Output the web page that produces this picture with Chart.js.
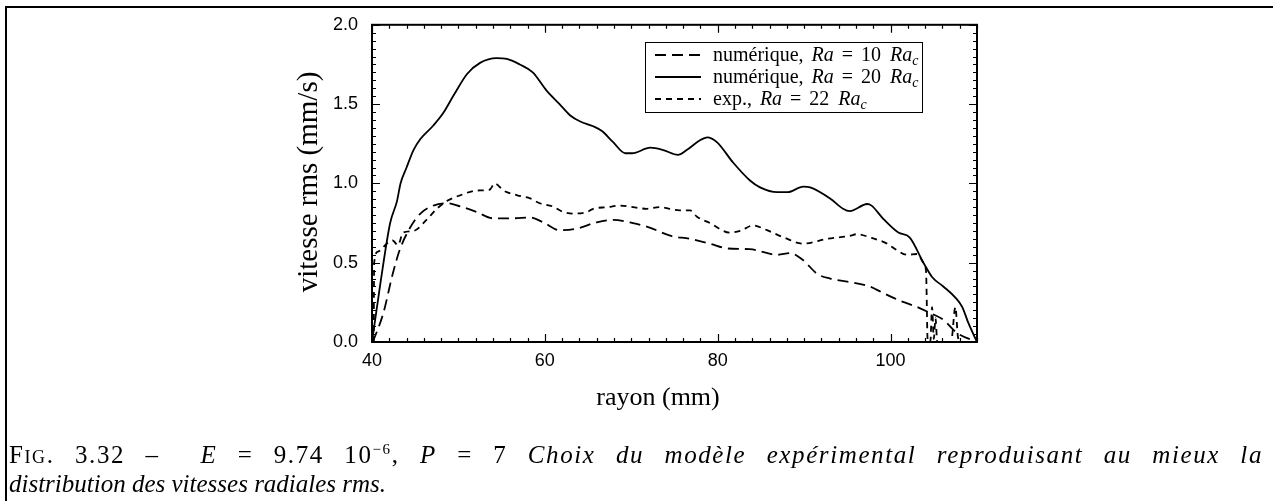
<!DOCTYPE html>
<html>
<head>
<meta charset="utf-8">
<script src="https://cdn.jsdelivr.net/npm/chart.js@4.4.1/dist/chart.umd.min.js"></script>
<style>
  body { margin: 0; background: #fff; }
  #wrap { position: relative; width: 1273px; height: 501px; overflow: hidden; }
  #frame { position: absolute; left: 5px; top: 6px; right: -5px; bottom: -5px; border-top: 2px solid #000; border-left: 2px solid #000; }
  canvas { position: absolute; left: 0; top: 0; }
  #caption { position: absolute; left: 9px; top: 440px; width: 1254px; font-family: "Liberation Serif", serif; font-size: 25px; line-height: 29px; color: #000; }
  #caption .l1 { text-align: justify; text-align-last: justify; letter-spacing: 1.6px; }
  #caption sup { font-size: 15px; line-height: 0; }
</style>
</head>
<body>
<div id="wrap">
  <canvas id="lineChart" width="1273" height="501"></canvas>
  <div id="frame"></div>
  <div id="caption">
    <div class="l1"><span style="font-variant: small-caps">Fig.</span> 3.32 – &nbsp;<i>E</i> = 9.74 10<sup>−6</sup>, <i>P</i> = 7 <i>Choix du modèle expérimental reproduisant au mieux la</i></div>
    <div><i>distribution des vitesses radiales rms.</i></div>
  </div>
</div>
<script>
// Chart data
const rayon20 = [40, 41, 42.1, 42.9, 43.3, 44, 44.8, 45.6, 47.1, 48.2, 49.5, 51, 52.5, 54.4, 55.6, 57.1, 58.6, 60.2, 61.7, 62.9, 64.1, 65.6, 66.6, 67.9, 69.3, 70.1, 72.2, 73.7, 75.4, 76.4, 77.9, 78.8, 79.9, 81.8, 83.7, 84.9, 86.9, 88.1, 89.9, 90.7, 93, 94.5, 95.3, 97.3, 97.8, 99.1, 100.9, 102.2, 103.8, 104.8, 106.1, 107.5, 108.3, 109, 110];
const vit20 = [0, 0.38, 0.75, 0.89, 1.0, 1.1, 1.21, 1.28, 1.365, 1.44, 1.56, 1.69, 1.76, 1.79, 1.785, 1.75, 1.70, 1.585, 1.50, 1.43, 1.39, 1.36, 1.33, 1.26, 1.19, 1.19, 1.225, 1.21, 1.18, 1.21, 1.27, 1.29, 1.26, 1.13, 1.02, 0.975, 0.945, 0.945, 0.98, 0.975, 0.905, 0.84, 0.825, 0.87, 0.86, 0.78, 0.69, 0.66, 0.50, 0.41, 0.35, 0.28, 0.22, 0.12, 0];

const rayon10 = [40.1, 41.3, 42.4, 43.2, 44.4, 45.6, 47.1, 48.7, 50.2, 52.1, 54, 56.3, 58.3, 59.8, 61.7, 63.7, 66, 67.9, 70.2, 72.2, 74.5, 76.8, 79.1, 81.1, 83.7, 86.9, 88.4, 89.9, 91.5, 93, 96.1, 97.6, 99.1, 101.1, 103.1, 104.3, 106.1, 107.7, 110];
const vit10 = [0, 0.18, 0.43, 0.58, 0.72, 0.81, 0.86, 0.875, 0.855, 0.82, 0.78, 0.78, 0.785, 0.755, 0.705, 0.715, 0.755, 0.77, 0.75, 0.72, 0.67, 0.65, 0.62, 0.59, 0.585, 0.55, 0.56, 0.515, 0.43, 0.40, 0.37, 0.35, 0.31, 0.26, 0.22, 0.19, 0.14, 0.057, 0];

const rayonExp = [40.2, 40.25, 40.7, 41.7, 42.4, 43.0, 43.6, 44.8, 46.3, 47.5, 48.7, 50.2, 52.1, 53.6, 54.2, 55.2, 56.8, 58.3, 59.4, 60.9, 62.1, 63.3, 64.9, 65.6, 67.2, 68.7, 70.2, 71.8, 73.3, 75.6, 76.8, 77.6, 79.1, 81.4, 82.6, 84.1, 85.7, 87.6, 89.9, 92.6, 95.3, 96.1, 97.6, 99.6, 100.7, 101.9, 103.1, 103.8, 104.1, 104.3, 104.6, 104.8, 105, 105.2, 105.4, 106, 107, 107.5, 107.8, 108.1, 110];
const vitExp = [0.0, 0.5, 0.57, 0.62, 0.64, 0.61, 0.69, 0.70, 0.77, 0.84, 0.89, 0.925, 0.955, 0.96, 1.0, 0.955, 0.925, 0.905, 0.875, 0.855, 0.82, 0.81, 0.82, 0.84, 0.85, 0.86, 0.85, 0.84, 0.85, 0.83, 0.83, 0.79, 0.75, 0.69, 0.70, 0.735, 0.705, 0.66, 0.62, 0.65, 0.67, 0.68, 0.66, 0.62, 0.58, 0.55, 0.555, 0.50, 0.45, 0.0, 0.0, 0.22, 0.02, 0.15, 0.0, 0.0, 0.0, 0.22, 0.03, 0.0, 0.0];

const xTicks = [40, 60, 80, 100];
const yTicks = [0, 0.5, 1.0, 1.5, 2.0];
const legendPrefix = [`numérique, `, `numérique, `, `exp., `];
const legendRa = [10, 20, 22];

const toPoints = (xs, ys) => xs.map((x, i) => ({ x: x, y: ys[i] }));

// Frame, inward ticks, axis titles and legend
const framePlugin = {
  id: `frame`,
  afterDatasetsDraw(chart) {
    const ctx = chart.ctx;
    const { left, right, top, bottom } = chart.chartArea;
    const xs = chart.scales.x;
    const ys = chart.scales.y;
    ctx.save();
    ctx.strokeStyle = `#000`;
    ctx.lineWidth = 2;
    ctx.setLineDash([]);
    ctx.strokeRect(left, top, right - left, bottom - top);

    ctx.lineWidth = 1.2;
    ctx.beginPath();
    for (let v = 40; v <= 110.001; v += 2) {
      const px = Math.round(xs.getPixelForValue(v)) + 0.5;
      const len = (Math.abs(v % 20) < 0.01) ? 8 : 4;
      ctx.moveTo(px, bottom); ctx.lineTo(px, bottom - len);
      ctx.moveTo(px, top); ctx.lineTo(px, top + len);
    }
    for (let i = 0; i <= 40; i++) {
      const v = i * 0.05;
      const py = Math.round(ys.getPixelForValue(v)) + 0.5;
      const len = (i % 10 === 0) ? 8 : 4;
      ctx.moveTo(left, py); ctx.lineTo(left + len, py);
      ctx.moveTo(right, py); ctx.lineTo(right - len, py);
    }
    ctx.stroke();

    // axis titles
    ctx.fillStyle = `#000`;
    ctx.font = `26px "Liberation Serif"`;
    ctx.textAlign = `center`;
    ctx.textBaseline = `middle`;
    ctx.fillText(`rayon (mm)`, 658, 398);
    ctx.save();
    ctx.translate(309, 182);
    ctx.rotate(-Math.PI / 2);
    ctx.font = `29px "Liberation Serif"`;
    ctx.fillText(`vitesse rms (mm/s)`, 0, 0);
    ctx.restore();

    // legend
    const bx = 645, by = 42, bw = 277, bh = 70;
    ctx.fillStyle = `#fff`;
    ctx.fillRect(bx, by, bw, bh);
    ctx.lineWidth = 1;
    ctx.strokeStyle = `#000`;
    ctx.strokeRect(bx + 0.5, by + 0.5, bw, bh);
    chart.data.datasets.forEach((ds, i) => {
      const ly = by + 13 + i * 22;
      ctx.lineWidth = ds.borderWidth;
      ctx.setLineDash(ds.borderDash || []);
      ctx.beginPath();
      ctx.moveTo(655, ly); ctx.lineTo(701, ly);
      ctx.stroke();
      ctx.setLineDash([]);
      ctx.fillStyle = `#000`;
      ctx.textAlign = `left`;
      ctx.textBaseline = `alphabetic`;
      let tx = 713;
      const base = ly + 6;
      const runs = [
        [legendPrefix[i], `20px "Liberation Serif"`, 0, 3],
        [`Ra`, `italic 20px "Liberation Serif"`, 0, 8],
        [`=`, `20px "Liberation Serif"`, 0, 8],
        [`${legendRa[i]}`, `20px "Liberation Serif"`, 0, 9],
        [`Ra`, `italic 20px "Liberation Serif"`, 0, 0],
        [`c`, `italic 14px "Liberation Serif"`, 4, 0]
      ];
      runs.forEach(([t, f, dy, gap]) => {
        ctx.font = f;
        ctx.fillText(t, tx, base + dy);
        tx += ctx.measureText(t).width + gap;
      });
    });
    ctx.restore();
  }
};

const lineChart = new Chart(document.getElementById(`lineChart`), {
  type: `line`,
  data: {
    datasets: [
      {
        label: `numérique, Ra = 10 Ra_c`,
        data: toPoints(rayon10, vit10),
        borderColor: `#000`,
        borderWidth: 1.8,
        borderDash: [11, 6],
        pointRadius: 0,
        cubicInterpolationMode: `monotone`
      },
      {
        label: `numérique, Ra = 20 Ra_c`,
        data: toPoints(rayon20, vit20),
        borderColor: `#000`,
        borderWidth: 1.8,
        pointRadius: 0,
        cubicInterpolationMode: `monotone`
      },
      {
        label: `exp., Ra = 22 Ra_c`,
        data: toPoints(rayonExp, vitExp),
        borderColor: `#000`,
        borderWidth: 1.8,
        borderDash: [6, 5],
        pointRadius: 0,
        cubicInterpolationMode: `monotone`
      }
    ]
  },
  options: {
    responsive: false,
    animation: false,
    layout: { padding: { left: 312, right: 296, top: 24, bottom: 119 } },
    plugins: { legend: { display: false }, tooltip: { enabled: false } },
    scales: {
      x: {
        type: `linear`,
        min: 40,
        max: 110,
        grid: { display: false, drawTicks: false },
        border: { display: false },
        afterBuildTicks: s => { s.ticks = xTicks.map(v => ({ value: v })); },
        afterFit: s => { s.height = 40; },
        ticks: { color: `#000`, padding: 8, font: { family: `"Liberation Sans"`, size: 18 } }
      },
      y: {
        type: `linear`,
        min: 0,
        max: 2,
        grid: { display: false, drawTicks: false },
        border: { display: false },
        afterBuildTicks: s => { s.ticks = yTicks.map(v => ({ value: v })); },
        afterFit: s => { s.width = 60; },
        ticks: { color: `#000`, padding: 14, font: { family: `"Liberation Sans"`, size: 18 }, callback: v => v.toFixed(1) }
      }
    }
  },
  plugins: [framePlugin]
});
</script>
</body>
</html>
